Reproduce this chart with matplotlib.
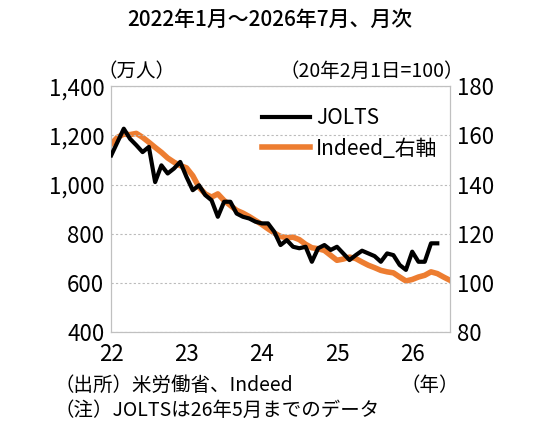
import numpy as np
import matplotlib
matplotlib.use("Agg")
import matplotlib.pyplot as plt

plt.rcParams["font.family"] = ["Noto Sans CJK JP", "DejaVu Sans"]

year_labels = ["22", "23", "24", "25", "26"]
# 2022年1月〜2026年5月
jolts = [1119, 1173, 1227, 1186, 1160, 1132, 1153, 1010, 1078, 1045, 1065, 1092,
         1031, 977, 997, 957, 936, 869, 930, 930, 882, 869, 862, 849,
         842, 842, 808, 754, 774, 747, 741, 747, 686, 741, 754, 734,
         747, 720, 693, 713, 731, 720, 709, 686, 720, 713, 673, 653,
         727, 686, 686, 761, 761]
# 2022年1月〜2026年7月
indeed = [156.5, 159.2, 160.5, 160.3, 160.8, 159.2, 157.2, 155.1, 153.1, 150.8, 149.1, 147.7,
          146.8, 143.6, 138.9, 136.2, 134.9, 136.2, 133.5, 131.5, 129.5, 128.4, 127.0, 125.4,
          123.8, 122.0, 120.3, 118.9, 118.4, 118.6, 117.6, 115.7, 114.3, 113.9, 113.2, 111.2,
          109.2, 109.7, 110.5, 109.9, 108.5, 107.2, 106.2, 105.1, 104.5, 104.1, 102.4, 100.8,
          101.4, 102.4, 103.1, 104.5, 103.8, 102.4, 101.1]

fig = plt.figure(figsize=(5.4, 4.33), dpi=100)
ax = fig.add_axes([0.206, 0.233, 0.627, 0.568])
ax2 = ax.twinx()

ax.plot(np.arange(len(jolts)), jolts, color="black", lw=3, label="JOLTS", zorder=3)
ax2.plot(np.arange(len(indeed)), indeed, color="#ED7D31", lw=4, label="Indeed_右軸", zorder=2)
ax.set_zorder(ax2.get_zorder() + 1)
ax.patch.set_visible(False)

ax.set_xlim(0, 54)
ax.set_ylim(400, 1400)
ax2.set_ylim(80, 180)
ax.set_yticks(range(400, 1401, 200))
ax.set_yticklabels([f"{v:,}" for v in range(400, 1401, 200)])
ax2.set_yticks(range(80, 181, 20))
ax.set_xticks([0, 12, 24, 36, 48])
ax.set_xticklabels(year_labels)
for a in (ax, ax2):
    a.tick_params(length=0, labelsize=16, pad=5)
    for s in a.spines.values():
        s.set_color("#c0c0c0")
ax.tick_params(axis="x", pad=8)
ax.grid(axis="y", color="#bbbbbb", ls=(0, (2, 2)), lw=0.8)

h1, l1 = ax.get_legend_handles_labels()
h2, l2 = ax2.get_legend_handles_labels()
ax.legend(h1 + h2, l1 + l2, loc="upper right", bbox_to_anchor=(1.02, 0.99), frameon=False,
          fontsize=15, handlelength=2.3, handletextpad=0.3, labelspacing=0.4)

fig.text(0.5, 0.955, "2022年1月～2026年7月、月次", ha="center", va="center",
         fontsize=15, fontweight="medium")
fig.text(0.18, 0.835, "（万人）", ha="left", va="center", fontsize=14)
fig.text(0.86, 0.835, "（20年2月1日=100）", ha="right", va="center", fontsize=14)
fig.text(0.10, 0.11, "（出所）米労働省、Indeed", ha="left", va="center", fontsize=14)
fig.text(0.10, 0.052, "（注）JOLTSは26年5月までのデータ", ha="left", va="center", fontsize=14)
fig.text(0.85, 0.11, "（年）", ha="right", va="center", fontsize=14)

fig.savefig("out.png", dpi=100)
